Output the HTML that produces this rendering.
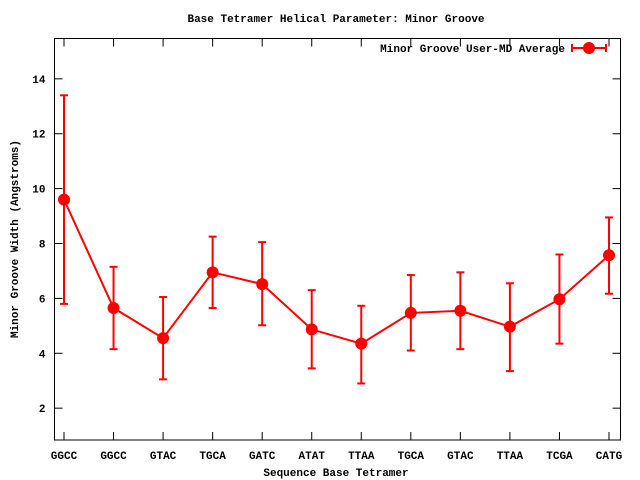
<!DOCTYPE html>
<html><head><meta charset="utf-8"><style>
body{margin:0;background:#fff}
svg{display:block;font-family:"Liberation Mono","DejaVu Sans Mono",monospace;font-weight:bold;font-size:11px}
</style></head><body>
<svg id="chart" width="640" height="480" viewBox="0 0 640 480">
<rect width="640" height="480" fill="#fff"/>
<text x="336" y="22" text-anchor="middle">Base Tetramer Helical Parameter: Minor Groove</text>
<text transform="translate(18,239) rotate(-90)" text-anchor="middle">Minor Groove Width (Angstroms)</text>
<text x="336" y="476" text-anchor="middle">Sequence Base Tetramer</text>
<g id="axes"></g>
<g id="series"></g>
<g>
<text x="565" y="52" text-anchor="end">Minor Groove User-MD Average</text>
<line x1="572" y1="48" x2="606" y2="48" stroke="#f00" stroke-width="2"/>
<line x1="572" y1="44" x2="572" y2="52" stroke="#f00" stroke-width="2"/>
<line x1="606" y1="44" x2="606" y2="52" stroke="#f00" stroke-width="2"/>
<circle cx="589" cy="48" r="6" fill="#f00"/>
</g>
<rect x="54.5" y="38.5" width="566" height="401.5" fill="none" stroke="#000" stroke-width="1"/>
</svg>
<script>
const categories=["GGCC","GGCC","GTAC","TGCA","GATC","ATAT","TTAA","TGCA","GTAC","TTAA","TCGA","CATG"];
const means=[9.6,5.65,4.55,6.95,6.52,4.87,4.35,5.47,5.55,4.97,5.97,7.57];
const lows=[5.8,4.15,3.05,5.65,5.02,3.45,2.9,4.1,4.15,3.35,4.35,6.17];
const highs=[13.4,7.15,6.05,8.25,8.05,6.3,5.73,6.85,6.95,6.55,7.6,8.95];
const yTicks=[2,4,6,8,10,12,14];
const NS="http://www.w3.org/2000/svg";
const L=54.5,R=620.5,T=38.5,B=440;
const yMin=0.84,yMax=15.47;
function xs(i){return 64+i*(609-64)/(categories.length-1);}
function ys(v){return B-(v-yMin)/(yMax-yMin)*(B-T);}
function mk(tag,attrs,parent){const e=document.createElementNS(NS,tag);for(const k in attrs)e.setAttribute(k,attrs[k]);parent.appendChild(e);return e;}
const ax=document.getElementById('axes');
yTicks.forEach(v=>{
  const y=ys(v);
  const t=mk('line',{x1:L,y1:y,x2:L+8,y2:y,stroke:'#000'},ax);
  
  
  mk('line',{x1:R-8,y1:y,x2:R,y2:y,stroke:'#000'},ax);
  const tx=mk('text',{x:L-9,y:y+4,'text-anchor':'end'},ax);
  tx.textContent=v;
  
  
});
categories.forEach((c,i)=>{
  const x=xs(i);
  const t=mk('line',{x1:x,y1:B,x2:x,y2:B-8,stroke:'#000'},ax);
  
  
  mk('line',{x1:x,y1:T,x2:x,y2:T+8,stroke:'#000'},ax);
  const tx=mk('text',{x:x,y:B+19,'text-anchor':'middle'},ax);
  tx.textContent=c;
  
  
});
const s=document.getElementById('series');
const pts=means.map((v,i)=>xs(i)+','+ys(v)).join(' ');
const pl=mk('polyline',{points:pts,fill:'none',stroke:'#f00','stroke-width':2},s);


means.forEach((v,i)=>{
  const x=xs(i);
  const g=mk('g',{},s);
  
  
  mk('line',{x1:x,y1:ys(lows[i]),x2:x,y2:ys(highs[i]),stroke:'#f00','stroke-width':2},g);
  mk('line',{x1:x-4,y1:ys(lows[i]),x2:x+4,y2:ys(lows[i]),stroke:'#f00','stroke-width':2},g);
  mk('line',{x1:x-4,y1:ys(highs[i]),x2:x+4,y2:ys(highs[i]),stroke:'#f00','stroke-width':2},g);
  const c=mk('circle',{cx:x,cy:ys(v),r:6,fill:'#f00'},s);
  
  
});
</script>
</body></html>
